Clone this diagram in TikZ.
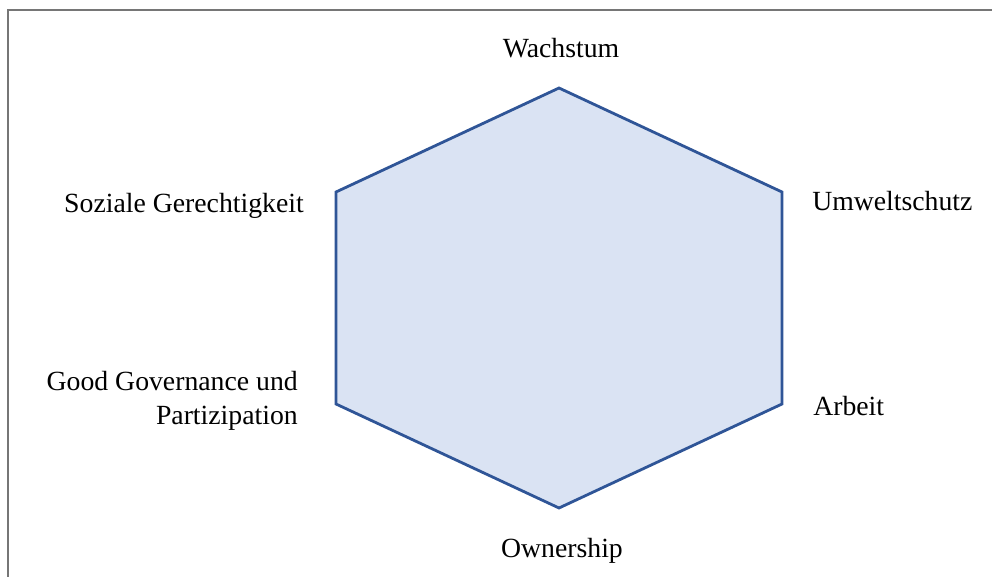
\documentclass[tikz,border=0pt]{standalone}
\usepackage{fontspec}
\setmainfont{Liberation Serif}
\usetikzlibrary{calc}

\definecolor{hexfill}{RGB}{218,227,243}
\definecolor{hexline}{RGB}{47,85,151}
\definecolor{framegray}{RGB}{118,118,118}

\begin{document}
\begin{tikzpicture}[x=0.75pt, y=-0.75pt,
		every node/.style={font=\fontsize{20.8}{25.5}\selectfont, inner sep=0pt},
		hexside/.style={draw=hexline, fill=hexfill, line width=2.1pt, line join=miter},
		frameline/.style={draw=framegray, line width=1.5pt}]
	
	% page and frame
	\useasboundingbox (0,0) rectangle (992,577);
	\draw[frameline] (8,590) -- (8,10.5) -- (1000,10.5);
	
	% parameters
	\def\cx{559}       % centre of hexagon
	\def\hw{223}       % half width
	\def\ty{88}        % top vertex
	\def\uy{192}       % upper side vertices
	\def\ly{404}       % lower side vertices
	\def\by{508}       % bottom vertex
	
	% hexagon corners
	\coordinate (top) at (\cx,\ty);
	\coordinate (ur) at (\cx+\hw,\uy);
	\coordinate (lr) at (\cx+\hw,\ly);
	\coordinate (bot) at (\cx,\by);
	\coordinate (ll) at (\cx-\hw,\ly);
	\coordinate (ul) at (\cx-\hw,\uy);
	
	\draw[hexside] (top) -- (ur) -- (lr) -- (bot) -- (ll) -- (ul) -- cycle;
	
	% labels
	\node[anchor=base] (wachstum) at ($(top)+(2,-30)$) {Wachstum};
	\node[anchor=base west] (umwelt) at ($(ur)+(30,19)$) {Umweltschutz};
	\node[anchor=base east] (sozial) at ($(ul)+(-32,21)$) {Soziale Gerechtigkeit};
	\node[anchor=base west] (arbeit) at ($(lr)+(31,11)$) {Arbeit};
	\node[anchor=base east, align=right] (governance) at ($(ll)+(-38,20)$) {Good Governance und\\Partizipation};
	\node[anchor=base] (ownership) at ($(bot)+(3,49)$) {Ownership};
	
\end{tikzpicture}
\end{document}
